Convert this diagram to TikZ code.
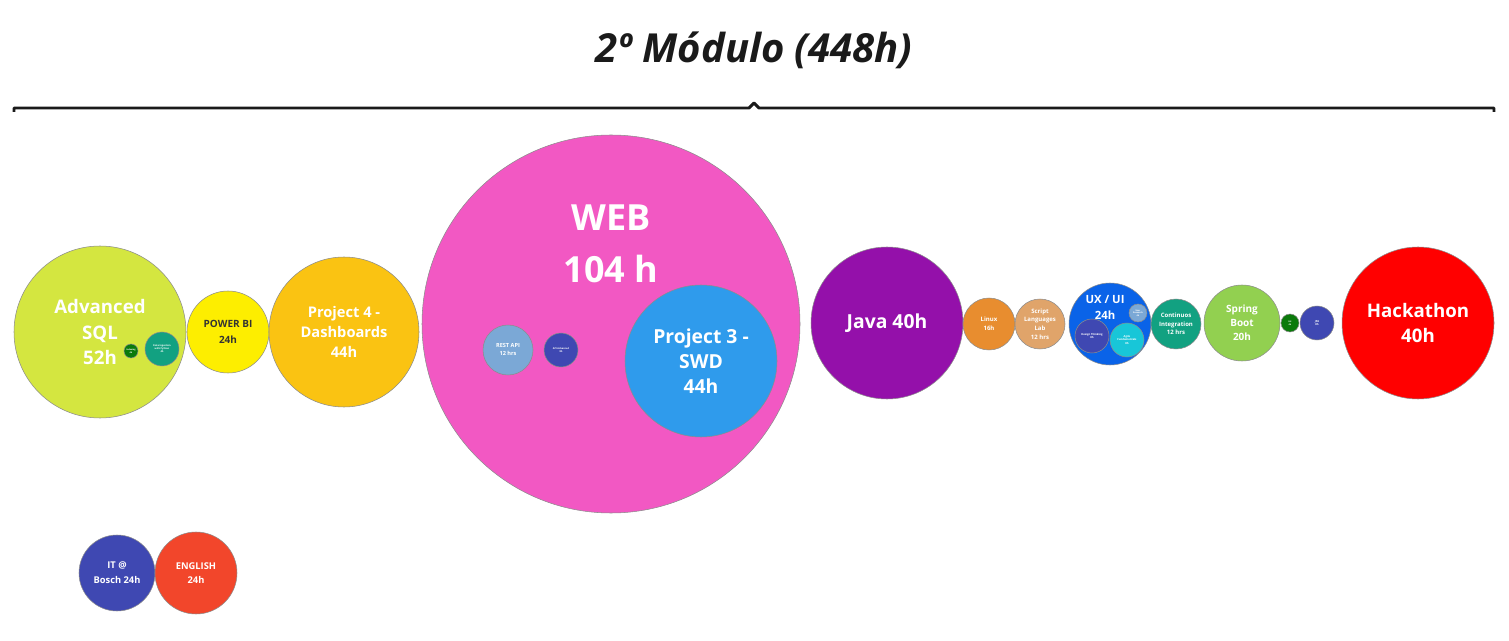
\documentclass[tikz,border=0pt]{standalone}
\usepackage{fontspec}
\setmainfont{Open Sans}
\newcommand\myfs[2]{\fontsize{#1}{#2}\selectfont\bfseries}
\definecolor{clime}{HTML}{D4E640}
\definecolor{cdgreen}{HTML}{0B7A0B}
\definecolor{cteal}{HTML}{12A181}
\definecolor{cyellow}{HTML}{FDEE00}
\definecolor{camber}{HTML}{FAC312}
\definecolor{cpink}{HTML}{F258C3}
\definecolor{clblue}{HTML}{7BA8D6}
\definecolor{cindigo}{HTML}{3F48B2}
\definecolor{csky}{HTML}{2F9BEC}
\definecolor{cpurple}{HTML}{9410AA}
\definecolor{corange}{HTML}{E88D2F}
\definecolor{ctan}{HTML}{E0A46A}
\definecolor{cblue}{HTML}{0A63E8}
\definecolor{ccyan}{HTML}{18C6D8}
\definecolor{cgreen}{HTML}{92D050}
\definecolor{cred}{HTML}{FF0000}
\definecolor{cver}{HTML}{F2462B}
\definecolor{cink}{HTML}{1A1A1A}
\tikzset{
  bub/.style={circle,inner sep=0pt,draw=black!45,line width=0.4pt,text=white,align=center},
  rad/.style={minimum size=#1*1.5pt},
}
\begin{document}
\begin{tikzpicture}[x=0.75pt,y=-0.75pt]
\useasboundingbox (0,0) rectangle (1509,641);
% title
\node[text=cink,font={\fontsize{30}{36}\selectfont\bfseries\itshape}] (title) at (754,50) {2º Módulo (448h)};
% brace
\draw[cink,line width=2.2pt,line join=round] (14,112) -- (14,108) -- (749,108) -- (754,103) -- (759,108) -- (1494,108) -- (1494,112);
% Advanced SQL
\node[bub,rad=86,fill=clime,font=\myfs{14}{19}] (sql) at (100,332) {Advanced\\SQL\\52h};
\node[bub,rad=7,fill=cdgreen,font=\myfs{1.6}{2}] (idx) at (131,351) {Indexing\\4h};
\node[bub,rad=17,fill=cteal,font=\myfs{1.8}{2.3}] (ing) at (162,349) {Data Ingestion\\with Python\\4h};
% Power BI
\node[bub,rad=41,fill=cyellow,text=black!80,font=\myfs{7.5}{11.5}] (pbi) at (228,332) {POWER BI\\24h};
% Project 4
\node[bub,rad=75,fill=camber,font=\myfs{11}{15}] (p4) at (344,332) {Project 4 -\\Dashboards\\44h};
% WEB
\node[bub,rad=189,fill=cpink] (web) at (611,324) {};
\node[text=white,align=center,font=\myfs{27}{39}] (webt) at (611,244) {WEB\\104 h};
\node[bub,rad=25,fill=clblue,font=\myfs{4.2}{6}] (rest) at (508,350) {REST API\\12 hrs};
\node[bub,rad=17,fill=cindigo,font=\myfs{1.8}{2.4}] (apiadv) at (561,350) {API Advanced\\8h};
\node[bub,rad=76,fill=csky,font=\myfs{14.5}{19}] (p3) at (701,361) {Project 3 -\\SWD\\44h};
% Java
\node[bub,rad=76,fill=cpurple,font=\myfs{14.5}{19}] (java) at (887,323) {Java 40h};
% Linux, Script
\node[bub,rad=26,fill=corange,font=\myfs{4.5}{7}] (linux) at (989,324) {Linux\\16h};
\node[bub,rad=25,fill=ctan,font=\myfs{4.5}{6.5}] (script) at (1040,324) {Script\\Languages\\Lab\\12 hrs};
% UX/UI
\node[bub,rad=41,fill=cblue] (ux) at (1110,324) {};
\node[text=white,align=center,font=\myfs{8.5}{12}] (uxt) at (1105,307) {UX / UI\\24h};
\node[bub,rad=9,fill=clblue,font=\myfs{1.6}{2}] (ures) at (1138,313) {User\\Research\\4h};
\node[bub,rad=17,fill=cindigo,font=\myfs{2}{2.6}] (dt) at (1092,336) {Design Thinking\\8h};
\node[bub,rad=17,fill=ccyan,font=\myfs{2}{2.6}] (agile) at (1127,340) {Agile\\Fundamentals\\8h};
% Continuous integration
\node[bub,rad=25,fill=cteal,font=\myfs{4.5}{6.5}] (ci) at (1176,324) {Continuos\\Integration\\12 hrs};
% Spring boot
\node[bub,rad=38,fill=cgreen,font=\myfs{7.5}{10.5}] (spring) at (1242,323) {Spring\\Boot\\20h};
\node[bub,rad=9,fill=cdgreen,font=\myfs{1.6}{2}] (git) at (1290,323) {Git\\4h};
\node[bub,rad=17,fill=cindigo,font=\myfs{2}{2.6}] (jpa) at (1317,323) {JPA\\8h};
% Hackathon
\node[bub,rad=76,fill=cred,font=\myfs{14}{19}] (hack) at (1418,323) {Hackathon\\40h};
% bottom
\node[bub,rad=38,fill=cindigo,font=\myfs{7}{11}] (bosch) at (117,573) {IT @\\Bosch 24h};
\node[bub,rad=41,fill=cver,font=\myfs{7}{11}] (eng) at (196,573) {ENGLISH\\24h};
\end{tikzpicture}
\end{document}
